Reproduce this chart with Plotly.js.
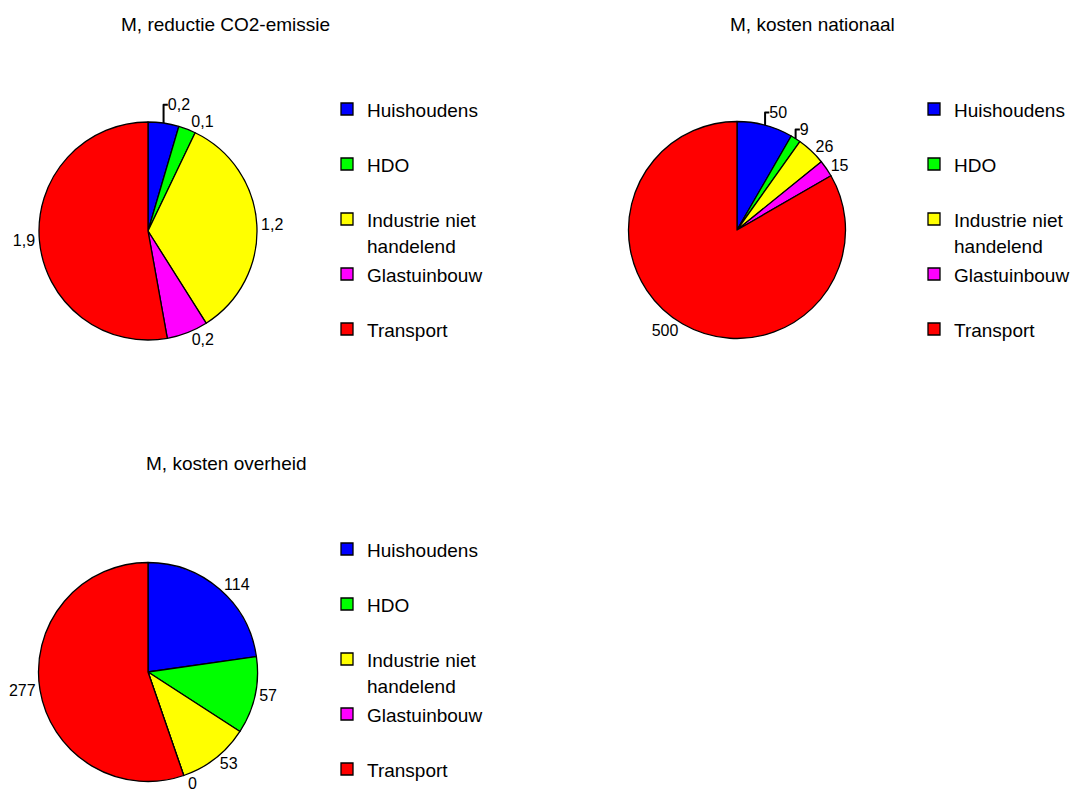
<!DOCTYPE html>
<html>
<head>
<meta charset="utf-8">
<script src="https://cdn.plot.ly/plotly-3.0.1.min.js"></script>
<style>html,body{margin:0;padding:0;background:#fff;}#chart{width:1073px;height:800px;}</style>
</head>
<body>
<div id="chart"></div>
<script>
// Categories (sectors)
const categories = ["Huishoudens", "HDO", "Industrie niet<br>handelend", "Glastuinbouw", "Transport"];
const sliceColors = ["#0000FF", "#00FF00", "#FFFF00", "#FF00FF", "#FF0000"];

// Chart titles
const titles = ["M, reductie CO2-emissie", "M, kosten nationaal", "M, kosten overheid"];

// Series values
const reductieCO2 = [0.164, 0.092, 1.22, 0.22, 1.90];
const kostenNationaal = [50, 9, 26, 15, 500];
const kostenOverheid = [114, 57, 53, 0, 277];

const W = 1073, H = 800;
const FONT = "Liberation Sans, Arial, sans-serif";
const TXT = 19;

// legend labels: keep text size but give each entry a fixed slot height
const legendLabels = categories.map(c => {
  const parts = c.split("<br>");
  const lines = parts.map(p => '<span style="font-size:' + TXT + 'px">' + p + '</span>');
  if (parts.length === 1) lines.push('&nbsp;');
  return lines.join("<br>");
});

function pxDomX(a, b) { return [a / W, b / W]; }
function pxDomY(top, bottom) { return [1 - bottom / H, 1 - top / H]; }

function pieTrace(values, cx, cy, r, legendId, tmpl) {
  return {
    type: "pie",
    labels: legendLabels,
    values: values,
    sort: false,
    direction: "clockwise",
    rotation: 0,
    marker: { colors: sliceColors, line: { color: "#000000", width: 1.3 } },
    textposition: "outside",
    texttemplate: tmpl,
    outsidetextfont: { family: FONT, size: 16, color: "#000000" },
    automargin: false,
    showlegend: true,
    legend: legendId,
    legendgroup: legendId,
    hoverinfo: "label+value",
    domain: { x: pxDomX(cx - r, cx + r), y: pxDomY(cy - r, cy + r) }
  };
}

const data = [
  pieTrace(reductieCO2, 148, 231, 109, "legend", "%{value:.1f}"),
  pieTrace(kostenNationaal, 737, 230, 108.5, "legend2", "%{value}"),
  pieTrace(kostenOverheid, 148, 672, 109.5, "legend3", "%{value}")
];

function legendAt(xpx, ypx) {
  return {
    x: xpx / W, y: 1 - ypx / H, xanchor: "left", yanchor: "top",
    orientation: "v", valign: "top",
    font: { family: FONT, size: 20, color: "#000000" },
    bgcolor: "rgba(0,0,0,0)", borderwidth: 0,
    traceorder: "normal"
  };
}

function titleAnn(text, xpx, ypx) {
  return {
    text: text, xref: "paper", yref: "paper",
    x: xpx / W, y: 1 - ypx / H, xanchor: "center", yanchor: "middle",
    showarrow: false, font: { family: FONT, size: TXT, color: "#000000" }
  };
}

const layout = {
  width: W, height: H,
  margin: { l: 0, r: 0, t: 0, b: 0, autoexpand: false },
  paper_bgcolor: "#ffffff",
  plot_bgcolor: "#ffffff",
  separators: ", ",
  font: { family: FONT, color: "#000000" },
  legend: legendAt(327, 89.5),
  legend2: legendAt(914, 89.5),
  legend3: legendAt(327, 529.5),
  annotations: [
    titleAnn(titles[0], 225, 24),
    titleAnn(titles[1], 812, 24),
    titleAnn(titles[2], 226, 464)
  ]
};

Plotly.newPlot("chart", data, layout, { displayModeBar: false, staticPlot: true });
</script>
</body>
</html>
